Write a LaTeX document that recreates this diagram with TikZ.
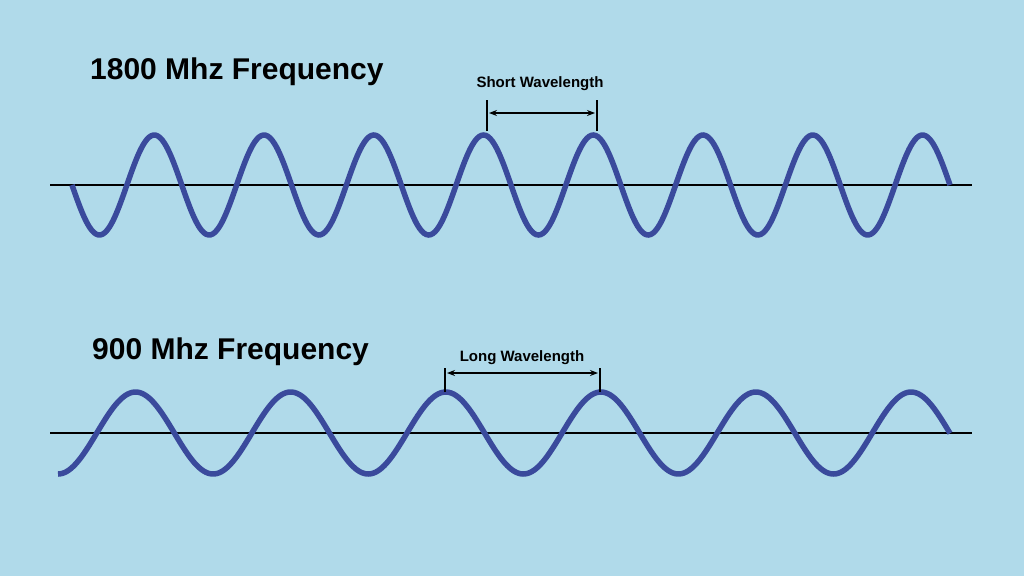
\documentclass[tikz,border=0pt]{standalone}
\usepackage{fontspec}
\setmainfont{Liberation Sans}
\usetikzlibrary{arrows.meta}
\definecolor{bg}{HTML}{B0DAEA}
\definecolor{wave}{HTML}{3A4A9C}
\begin{document}
\begin{tikzpicture}[x=1pt,y=-1pt,
  wavestyle/.style={wave,line width=5.5pt},
  axisstyle/.style={black,line width=2.5pt},
  title/.style={font=\bfseries\fontsize{30}{34}\selectfont,anchor=west,inner sep=0},
  lab/.style={font=\bfseries\fontsize{15}{17}\selectfont,inner sep=0},
  tick/.style={black,line width=1.2pt},
  dim/.style={black,line width=1.2pt,{Stealth[length=8pt,width=6pt]}-{Stealth[length=8pt,width=6pt]}}]
\fill[bg] (0,0) rectangle (1024,576);
\useasboundingbox (0,0) rectangle (1024,576);
% top
\coordinate (a1) at (50,185); \coordinate (a2) at (972,185);
\draw[axisstyle] (a1) -- (a2);
\draw[wavestyle,domain=72:950,samples=400,smooth,variable=\x] plot (\x,{185+50*sin((\x-72)/109.75*360)});
\node[title] (t1) at (90,72) {1800 Mhz Frequency};
\coordinate (s1) at (487,100); \coordinate (s1b) at (487,131);
\coordinate (s2) at (597,100); \coordinate (s2b) at (597,131);
\draw[tick] (s1) -- (s1b); \draw[tick] (s2) -- (s2b);
\draw[dim] (489,113) -- (595,113);
\node[lab] (l1) at (540,84) {Short Wavelength};
% bottom
\coordinate (b1) at (50,433); \coordinate (b2) at (972,433);
\draw[axisstyle] (b1) -- (b2);
\draw[wavestyle,domain=58:950,samples=400,smooth,variable=\x] plot (\x,{433+41*cos((\x-58)/155.1*360)});
\node[title] (t2) at (92,352) {900 Mhz Frequency};
\coordinate (u1) at (445,368); \coordinate (u1b) at (445,392);
\coordinate (u2) at (600,368); \coordinate (u2b) at (600,392);
\draw[tick] (u1) -- (u1b); \draw[tick] (u2) -- (u2b);
\draw[dim] (447,373) -- (598,373);
\node[lab] (l2) at (522,358) {Long Wavelength};
\end{tikzpicture}
\end{document}
